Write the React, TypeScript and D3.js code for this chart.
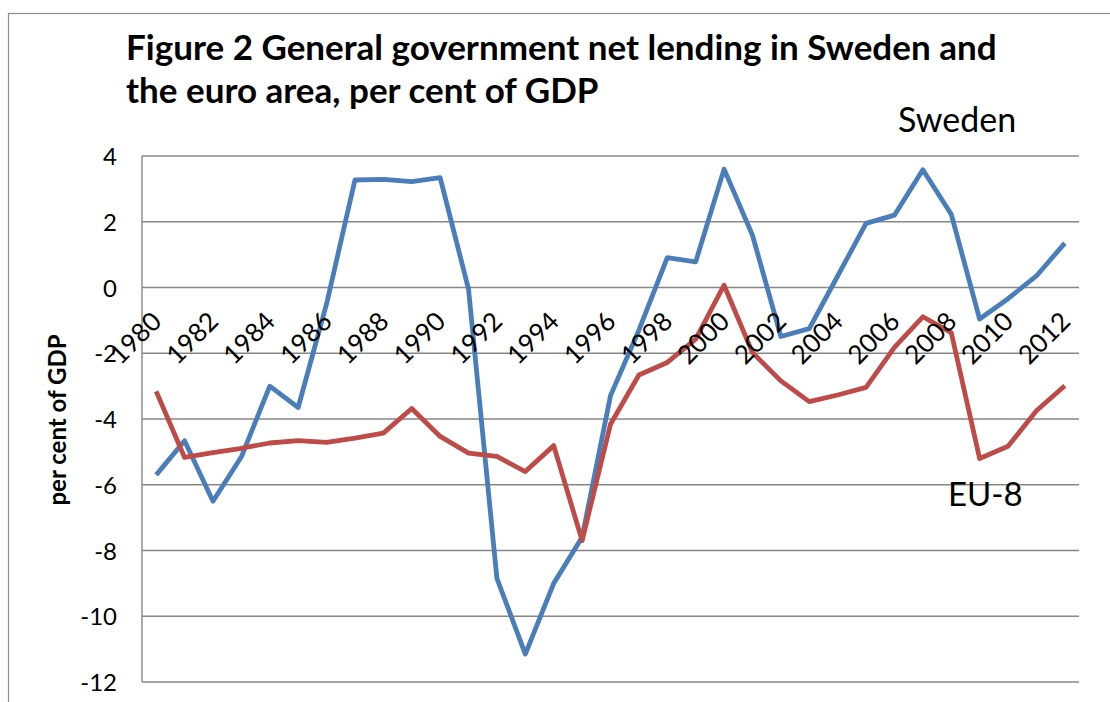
import * as d3 from 'd3'

const years = d3.range(1980, 2013).map(String)

const sweden = [
  -5.7, -4.66, -6.5, -5.15, -3.0, -3.65, -0.5, 3.27, 3.29, 3.22, 3.34,
  -0.05, -8.85, -11.15, -9.0, -7.6, -3.29, -1.3, 0.91, 0.78, 3.6,
  1.59, -1.49, -1.25, 0.35, 1.95, 2.2, 3.58, 2.23, -0.96, -0.34, 0.35, 1.35
]

const eu8 = [
  -3.16, -5.17, -5.02, -4.89, -4.73, -4.66, -4.71, -4.58, -4.43, -3.68, -4.53,
  -5.04, -5.14, -5.6, -4.81, -7.7, -4.16, -2.66, -2.28, -1.57, 0.07,
  -1.98, -2.84, -3.47, -3.27, -3.04, -1.82, -0.89, -1.37, -5.2, -4.83, -3.75, -2.99
]

const yTicks = d3.range(-12, 5, 2)
const labelYears = years.filter((_, i) => i % 2 === 0)

const titleLines = [
  'Figure 2 General government net lending in Sweden and',
  'the euro area, per cent of GDP'
]

export default function App() {
  const width = 1110
  const height = 702
  const left = 142
  const right = 1079
  const top = 156
  const bottom = 682

  const x = d3.scalePoint<string>().domain(years).range([left, right]).padding(0.5)
  const y = d3.scaleLinear().domain([-12, 4]).range([bottom, top])

  const line = d3.line<number>()
    .x((_, i) => x(years[i]) as number)
    .y(d => y(d))

  const font = 'Lato, "Open Sans", sans-serif'

  return (
    <svg width={width} height={height} style={{ position: 'absolute', left: 0, top: 0, background: '#fff' }}
      fontFamily={font}>
      <rect x={8.5} y={13.5} width={1200} height={800} fill="#fff" stroke="#8c8c8c" strokeWidth={1.2} />

      {titleLines.map((t, i) => (
        <text key={i} x={126} y={60 + i * 43} fontSize={35} fontWeight="bold" fill="#000">{t}</text>
      ))}

      {/* gridlines */}
      {yTicks.map(t => (
        <line key={t} x1={left} x2={right} y1={y(t)} y2={y(t)} stroke="#878787" strokeWidth={1.4} />
      ))}
      <line x1={left} x2={left} y1={top} y2={bottom} stroke="#878787" strokeWidth={1.4} />

      {yTicks.map(t => (
        <text key={t} x={117} y={y(t) + 9} textAnchor="end" fontSize={24} fill="#000">{t}</text>
      ))}

      <text transform="translate(66,420) rotate(-90)" textAnchor="middle" fontSize={24} fontWeight="bold" fill="#000">
        per cent of GDP
      </text>

      <path d={line(sweden) ?? ''} fill="none" stroke="#4a7ebb" strokeWidth={4.8} strokeLinejoin="round" />
      <path d={line(eu8) ?? ''} fill="none" stroke="#be4b48" strokeWidth={4.8} strokeLinejoin="round" />

      {labelYears.map(yr => (
        <text key={yr} transform={`translate(${(x(yr) as number) + 7},323) rotate(-45)`} textAnchor="end"
          fontSize={26} fill="#000">{yr}</text>
      ))}

      <text x={898} y={132} fontSize={34} fill="#000">Sweden</text>
      <text x={948} y={506} fontSize={33} fill="#000">EU-8</text>
    </svg>
  )
}
